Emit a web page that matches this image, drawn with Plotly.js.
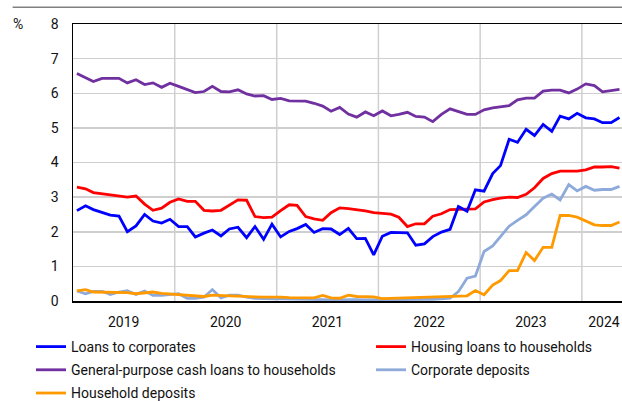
<!DOCTYPE html>
<html>
<head>
<meta charset="utf-8">
<script src="https://cdn.plot.ly/plotly-3.0.1.min.js"></script>
<style>html,body{margin:0;padding:0;background:#fff;}#chart{width:622px;height:401px;}</style>
</head>
<body>
<div id="chart"></div>
<script>
// Monthly observations, Jan 2019 – May 2024
var months = [
 '2019-01','2019-02','2019-03','2019-04','2019-05','2019-06','2019-07','2019-08','2019-09','2019-10','2019-11','2019-12',
 '2020-01','2020-02','2020-03','2020-04','2020-05','2020-06','2020-07','2020-08','2020-09','2020-10','2020-11','2020-12',
 '2021-01','2021-02','2021-03','2021-04','2021-05','2021-06','2021-07','2021-08','2021-09','2021-10','2021-11','2021-12',
 '2022-01','2022-02','2022-03','2022-04','2022-05','2022-06','2022-07','2022-08','2022-09','2022-10','2022-11','2022-12',
 '2023-01','2023-02','2023-03','2023-04','2023-05','2023-06','2023-07','2023-08','2023-09','2023-10','2023-11','2023-12',
 '2024-01','2024-02','2024-03','2024-04','2024-05'
];

var loansCorporates = [
 2.61,2.75,2.64,2.57,2.48,2.45,2.00,2.17,2.50,2.31,2.25,2.36,
 2.15,2.15,1.85,1.96,2.05,1.88,2.08,2.13,1.83,2.15,1.78,2.22,
 1.85,2.01,2.09,2.21,1.98,2.09,2.08,1.92,2.10,1.80,1.81,1.33,
 1.87,1.98,1.98,1.97,1.61,1.65,1.86,1.99,2.07,2.73,2.59,3.21,
 3.17,3.68,3.91,4.67,4.58,4.96,4.78,5.10,4.90,5.34,5.26,5.42,
 5.29,5.26,5.15,5.15,5.30
];

var housingLoans = [
 3.29,3.24,3.13,3.10,3.07,3.04,3.00,3.03,2.80,2.62,2.68,2.85,
 2.95,2.88,2.88,2.62,2.60,2.62,2.76,2.92,2.91,2.44,2.41,2.42,
 2.61,2.78,2.76,2.44,2.37,2.33,2.55,2.69,2.67,2.64,2.60,2.55,
 2.52,2.51,2.42,2.15,2.23,2.23,2.45,2.52,2.64,2.65,2.66,2.66,
 2.86,2.93,2.97,3.00,2.99,3.08,3.27,3.54,3.68,3.75,3.75,3.75,
 3.79,3.87,3.87,3.88,3.84
];

var cashLoans = [
 6.57,6.45,6.34,6.43,6.42,6.43,6.30,6.39,6.25,6.30,6.17,6.29,
 6.20,6.10,6.02,6.05,6.20,6.05,6.04,6.10,5.98,5.92,5.93,5.82,
 5.85,5.78,5.78,5.77,5.71,5.63,5.48,5.59,5.40,5.31,5.46,5.35,
 5.49,5.35,5.39,5.45,5.33,5.31,5.18,5.39,5.55,5.47,5.39,5.39,
 5.52,5.58,5.60,5.64,5.81,5.86,5.86,6.06,6.09,6.09,6.01,6.12,
 6.27,6.22,6.04,6.07,6.11
];

var corporateDeposits = [
 0.29,0.21,0.28,0.28,0.19,0.26,0.30,0.19,0.29,0.16,0.16,0.19,
 0.21,0.08,0.08,0.11,0.33,0.09,0.17,0.17,0.11,0.08,0.06,0.06,
 0.06,0.06,0.06,0.06,0.06,0.04,0.03,0.04,0.05,0.04,0.03,0.03,
 0.03,0.03,0.03,0.04,0.04,0.05,0.05,0.06,0.08,0.27,0.66,0.72,
 1.43,1.59,1.87,2.16,2.33,2.49,2.73,2.97,3.09,2.92,3.36,3.18,
 3.31,3.20,3.22,3.22,3.31
];

var householdDeposits = [
 0.29,0.33,0.26,0.26,0.24,0.24,0.24,0.21,0.23,0.26,0.22,0.20,
 0.19,0.17,0.14,0.13,0.17,0.17,0.15,0.14,0.12,0.12,0.11,0.12,
 0.11,0.10,0.10,0.09,0.09,0.16,0.09,0.08,0.17,0.13,0.12,0.12,
 0.07,0.08,0.09,0.08,0.09,0.10,0.11,0.13,0.14,0.15,0.15,0.30,
 0.18,0.46,0.59,0.88,0.88,1.40,1.17,1.55,1.55,2.47,2.47,2.42,
 2.31,2.20,2.18,2.18,2.28
];

var yearLabels = ['2019','2020','2021','2022','2023','2024'];
var yearLabelPos = ['2019-07-02','2020-07-02','2021-07-02','2022-07-02','2023-07-02','2024-03-20'];
var yearBounds = ['2020-01-01','2021-01-01','2022-01-01','2023-01-01','2024-01-01'];

var x = months.map(function(m){ return m + '-15'; });
var FONT = 'Roboto, "Liberation Sans", sans-serif';
var FS = 14;

function tr(name, y, color, legend, rank) {
  return {type:'scatter', mode:'lines', name:name, x:x, y:y, legend:legend,
          legendrank:rank, legendgroup:'g' + rank,
          line:{color:color, width:2.8}, hoverinfo:'skip'};
}

var data = [
  tr('Corporate deposits', corporateDeposits, '#8eaadb', 'legend2', 2),
  tr('Household deposits', householdDeposits, '#ff9900', 'legend', 3),
  tr('Housing loans to households', housingLoans, '#ff0000', 'legend2', 1),
  tr('Loans to corporates', loansCorporates, '#0000ff', 'legend', 1),
  tr('General-purpose cash loans to households', cashLoans, '#7030a0', 'legend', 2)
];

var legendBase = {
  xref:'container', yref:'container', y:1-331/401,
  xanchor:'left', yanchor:'top', orientation:'v', bgcolor:'rgba(0,0,0,0)',
  font:{family:FONT, size:FS, color:'#111111'}, traceorder:'grouped', itemwidth:30,
  tracegroupgap:2
};

// vertical year-boundary gridlines, placed through the x axis scale
var yearGrid = yearBounds.map(function(d){
  return {type:'line', xref:'x', yref:'paper', x0:d, x1:d, y0:0, y1:1, layer:'below',
          line:{color:'#cfcfcf', width:1.5}};
});

var layout = {
  width:622, height:401,
  margin:{l:73, r:0, t:24, b:100, pad:0, autoexpand:false},
  paper_bgcolor:'#ffffff', plot_bgcolor:'#ffffff',
  font:{family:FONT, size:FS, color:'#111111'},
  showlegend:true,
  xaxis:{
    type:'date', range:['2019-01-01','2024-05-24'],
    tickmode:'array', tickvals:yearLabelPos, ticktext:yearLabels,
    ticks:'', showgrid:false, zeroline:false,
    showline:true, linecolor:'#000000', linewidth:1.5, mirror:true,
    ticklabelstandoff:8,
    tickfont:{family:FONT, size:FS, color:'#111111'}
  },
  yaxis:{
    range:[0,8], tickmode:'linear', tick0:0, dtick:1,
    ticks:'', showgrid:true, gridcolor:'#cfcfcf', gridwidth:1.5, zeroline:false,
    showline:true, linecolor:'#000000', linewidth:1.5, mirror:false,
    ticklabelstandoff:10,
    tickfont:{family:FONT, size:FS, color:'#111111'}
  },
  legend:Object.assign({}, legendBase, {x:31/622}),
  legend2:Object.assign({}, legendBase, {x:371/622}),
  annotations:[{
    xref:'paper', yref:'paper', x:-0.1, y:1, xanchor:'center', yanchor:'middle',
    text:'%', showarrow:false, font:{family:FONT, size:FS, color:'#111111'}
  }],
  shapes:[{
    type:'line', xref:'paper', yref:'paper', x0:-0.11, x1:1, y0:1.0604, y1:1.0604,
    line:{color:'#808080', width:1.5}
  }].concat(yearGrid)
};

Plotly.newPlot('chart', data, layout, {displayModeBar:false, staticPlot:true});
</script>
</body>
</html>
